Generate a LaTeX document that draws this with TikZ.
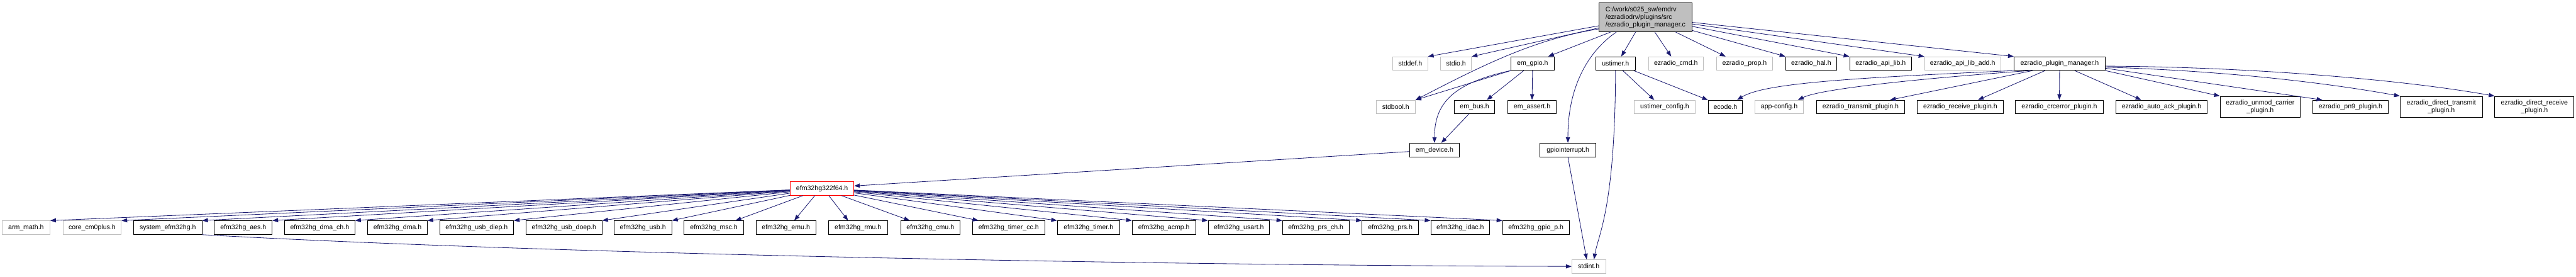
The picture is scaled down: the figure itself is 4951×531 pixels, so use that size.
\documentclass[tikz,border=0pt]{standalone}
\usepackage{fontspec}
\setmainfont{Liberation Sans}
\usetikzlibrary{arrows.meta,calc}
\definecolor{edgeblue}{HTML}{191970}
\definecolor{graybd}{HTML}{BFBFBF}
\begin{document}
\begin{tikzpicture}[x=1pt,y=-1pt,
  box/.style={draw=black,line width=1.2pt,fill=white,inner sep=0pt,minimum height=26pt,
    font=\fontsize{12.8}{15}\selectfont,anchor=center},
  gbox/.style={box,draw=graybd,line width=1pt},
  rbox/.style={box,draw=red},
  tbox/.style={box,minimum height=40pt,align=center},
  edge/.style={draw=edgeblue,line width=1pt,-{Triangle[length=11pt,width=8pt]}}]
\useasboundingbox (0,0) rectangle (4951,531);
% top
\node[box,minimum width=179pt,minimum height=55pt,fill=graybd,align=left] (a) at (3162.5,33.5)
  {C:/work/s025\_sw/emdrv\\/ezradiodrv/plugins/src\\/ezradio\_plugin\_manager.c};
% row 2
\node[gbox,minimum width=67pt] (stddef) at (2710.5,122) {stddef.h};
\node[gbox,minimum width=59pt] (stdio) at (2798.5,122) {stdio.h};
\node[box,minimum width=83pt] (emgpio) at (2945.5,122) {em\_gpio.h};
\node[box,minimum width=76pt] (ustimer) at (3105,122) {ustimer.h};
\node[gbox,minimum width=106pt] (ezcmd) at (3221,122) {ezradio\_cmd.h};
\node[gbox,minimum width=108pt] (ezprop) at (3353,122) {ezradio\_prop.h};
\node[box,minimum width=98pt] (ezhal) at (3481,122) {ezradio\_hal.h};
\node[box,minimum width=119pt] (ezapi) at (3614.5,122) {ezradio\_api\_lib.h};
\node[gbox,minimum width=146pt] (ezapiadd) at (3772,122) {ezradio\_api\_lib\_add.h};
\node[box,minimum width=175pt] (pmh) at (3958.5,122) {ezradio\_plugin\_manager.h};
% row 3
\node[gbox,minimum width=75pt] (stdbool) at (2682.5,205.5) {stdbool.h};
\node[box,minimum width=78pt] (embus) at (2834,205.5) {em\_bus.h};
\node[box,minimum width=93pt] (emassert) at (2944.5,205.5) {em\_assert.h};
\node[gbox,minimum width=117pt] (ustcfg) at (3199.5,205.5) {ustimer\_config.h};
\node[box,minimum width=66pt] (ecode) at (3316,205.5) {ecode.h};
\node[gbox,minimum width=93pt] (appcfg) at (3419.5,205.5) {app-config.h};
\node[box,minimum width=170pt] (txp) at (3576,205.5) {ezradio\_transmit\_plugin.h};
\node[box,minimum width=165pt] (rxp) at (3767.5,205.5) {ezradio\_receive\_plugin.h};
\node[box,minimum width=170pt] (crcp) at (3958,205.5) {ezradio\_crcerror\_plugin.h};
\node[box,minimum width=175pt] (ackp) at (4154.5,205.5) {ezradio\_auto\_ack\_plugin.h};
\node[tbox,minimum width=154pt] (unmodp) at (4344,205) {ezradio\_unmod\_carrier\\\_plugin.h};
\node[box,minimum width=145pt] (pn9p) at (4517.5,205.5) {ezradio\_pn9\_plugin.h};
\node[tbox,minimum width=158pt] (dtxp) at (4692,205) {ezradio\_direct\_transmit\\\_plugin.h};
\node[tbox,minimum width=152pt] (drxp) at (4871,205) {ezradio\_direct\_receive\\\_plugin.h};
% row 4
\node[box,minimum width=96pt] (emdev) at (2757,288) {em\_device.h};
\node[box,minimum width=107pt] (gpioint) at (3013.5,288) {gpiointerrupt.h};
% row 5
\node[rbox,minimum width=122pt] (efm) at (1580,362) {efm32hg322f64.h};
% row 6
\node[gbox,minimum width=92pt] (armmath) at (50,437) {arm\_math.h};
\node[gbox,minimum width=112pt] (corecm) at (177,437) {core\_cm0plus.h};
\node[box,minimum width=131pt] (sysefm) at (322.5,437) {system\_efm32hg.h};
\node[box,minimum width=111pt] (aes) at (467.5,437) {efm32hg\_aes.h};
\node[box,minimum width=135pt] (dmach) at (614.5,437) {efm32hg\_dma\_ch.h};
\node[box,minimum width=114pt] (dma) at (764,437) {efm32hg\_dma.h};
\node[box,minimum width=142pt] (usbdiep) at (916,437) {efm32hg\_usb\_diep.h};
\node[box,minimum width=146pt] (usbdoep) at (1084,437) {efm32hg\_usb\_doep.h};
\node[box,minimum width=111pt] (usb) at (1235.5,437) {efm32hg\_usb.h};
\node[box,minimum width=114pt] (msc) at (1372,437) {efm32hg\_msc.h};
\node[box,minimum width=115pt] (emu) at (1510.5,437) {efm32hg\_emu.h};
\node[box,minimum width=114pt] (rmu) at (1649,437) {efm32hg\_rmu.h};
\node[box,minimum width=114pt] (cmu) at (1788,437) {efm32hg\_cmu.h};
\node[box,minimum width=139pt] (timercc) at (1938.5,437) {efm32hg\_timer\_cc.h};
\node[box,minimum width=120pt] (timer) at (2092,437) {efm32hg\_timer.h};
\node[box,minimum width=122pt] (acmp) at (2237,437) {efm32hg\_acmp.h};
\node[box,minimum width=118pt] (usart) at (2381,437) {efm32hg\_usart.h};
\node[box,minimum width=128pt] (prsch) at (2529,437) {efm32hg\_prs\_ch.h};
\node[box,minimum width=108pt] (prs) at (2672,437) {efm32hg\_prs.h};
\node[box,minimum width=113pt] (idac) at (2806.5,437) {efm32hg\_idac.h};
\node[box,minimum width=128pt] (gpiop) at (2952,437) {efm32hg\_gpio\_p.h};
% row 7
\node[gbox,minimum width=65pt] (stdint) at (3053.5,511.5) {stdint.h};

% edges from top node
\draw[edge] (a) -- (stddef.north east);
\draw[edge] (a) -- (stdio.north east);
\draw[edge] ($(a.south west)+(0,-6)$) .. controls (2950,75) and (2850,125) .. (stdbool.north east);
\draw[edge] ($(a.south)+(-67,0)$) -- ($(emgpio.north)+(30,0)$);
\draw[edge] ($(a.south)+(-56,0)$) .. controls (3050,100) and (3013,170) .. (gpioint.north);
\draw[edge] ($(a.south)+(-19,0)$) -- ($(ustimer.north)+(11,0)$);
\draw[edge] ($(a.south)+(18,0)$) -- ($(ezcmd.north)+(-9,0)$);
\draw[edge] ($(a.south)+(58,0)$) -- ($(ezprop.north west)+(18,0)$);
\draw[edge] (a) -- (ezhal.north west);
\draw[edge] (a) -- (ezapi.north west);
\draw[edge] (a) -- (ezapiadd.north west);
\draw[edge] (a) -- (pmh.north west);
% em_gpio
\draw[edge] (emgpio.south west) -- (stdbool.north east);
\draw[edge] ($(emgpio.south)+(-17,0)$) -- ($(embus.north east)+(-16,0)$);
\draw[edge] (emgpio.south) -- (emassert.north);
\draw[edge] (emgpio.south west) .. controls (2790,160) and (2757,200) .. (emdev.north);
\draw[edge] ($(embus.south)+(-11,0)$) -- ($(emdev.north)+(13,0)$);
\draw[edge] (emdev) -- ($(efm.east)+(0,-5)$);
% ustimer
\draw[edge] ($(ustimer.south)+(14,0)$) -- ($(ustcfg.north)+(-20,0)$);
\draw[edge] ($(ustimer.south)+(35,0)$) -- (ecode.north west);
\draw[edge] (ustimer.south) .. controls (3104,400) and (3072,450) .. ($(stdint.north)+(10,0)$);
\draw[edge] (gpioint.south) -- ($(stdint.north)+(-4,0)$);
% plugin manager header
\draw[edge] (pmh.south west) .. controls (3550,150) and (3390,160) .. ($(ecode.north east)+(-11,0)$);
\draw[edge] ($(pmh.south west)+(30,0)$) .. controls (3700,150) and (3500,170) .. ($(appcfg.north east)+(-11,0)$);
\draw[edge] ($(pmh.south west)+(36,0)$) -- ($(txp.north east)+(-29,0)$);
\draw[edge] ($(pmh.south)+(-28,0)$) -- ($(rxp.north east)+(-49,0)$);
\draw[edge] (pmh.south) -- (crcp.north);
\draw[edge] ($(pmh.south)+(29,0)$) -- ($(ackp.north west)+(49,0)$);
\draw[edge] (pmh.south east) -- (unmodp.north west);
\draw[edge] ($(pmh.east)+(0,9)$) -- ($(pn9p.north west)+(19,0)$);
\draw[edge] ($(pmh.east)+(0,7)$) .. controls (4250,135) and (4450,155) .. (dtxp.north west);
\draw[edge] ($(pmh.east)+(0,5)$) .. controls (4300,128) and (4600,150) .. (drxp.north west);
% efm32hg322f64
\draw[edge] (efm) -- (armmath.north east);
\draw[edge] (efm) -- (corecm.north east);
\draw[edge] (efm) -- (sysefm.north east);
\draw[edge] (efm) -- (aes.north east);
\draw[edge] (efm) -- (dmach.north east);
\draw[edge] (efm) -- (dma.north east);
\draw[edge] (efm) -- (usbdiep.north east);
\draw[edge] (efm) -- (usbdoep.north east);
\draw[edge] (efm) -- (usb.north east);
\draw[edge] (efm) -- ($(msc.north east)+(-16,0)$);
\draw[edge] ($(efm.south)+(-14,0)$) -- ($(emu.north)+(16,0)$);
\draw[edge] ($(efm.south)+(13,0)$) -- ($(rmu.north)+(-19,0)$);
\draw[edge] (efm) -- ($(cmu.north west)+(18,0)$);
\draw[edge] (efm) -- ($(timercc.north west)+(12,0)$);
\draw[edge] (efm) -- (timer.north west);
\draw[edge] (efm) -- (acmp.north west);
\draw[edge] (efm) -- (usart.north west);
\draw[edge] (efm) -- (prsch.north west);
\draw[edge] (efm) -- (prs.north west);
\draw[edge] (efm) -- (idac.north west);
\draw[edge] (efm) -- (gpiop.north west);
\draw[edge] (sysefm.south east) .. controls (1100,490) and (2300,510) .. (stdint.west);
\end{tikzpicture}
\end{document}
